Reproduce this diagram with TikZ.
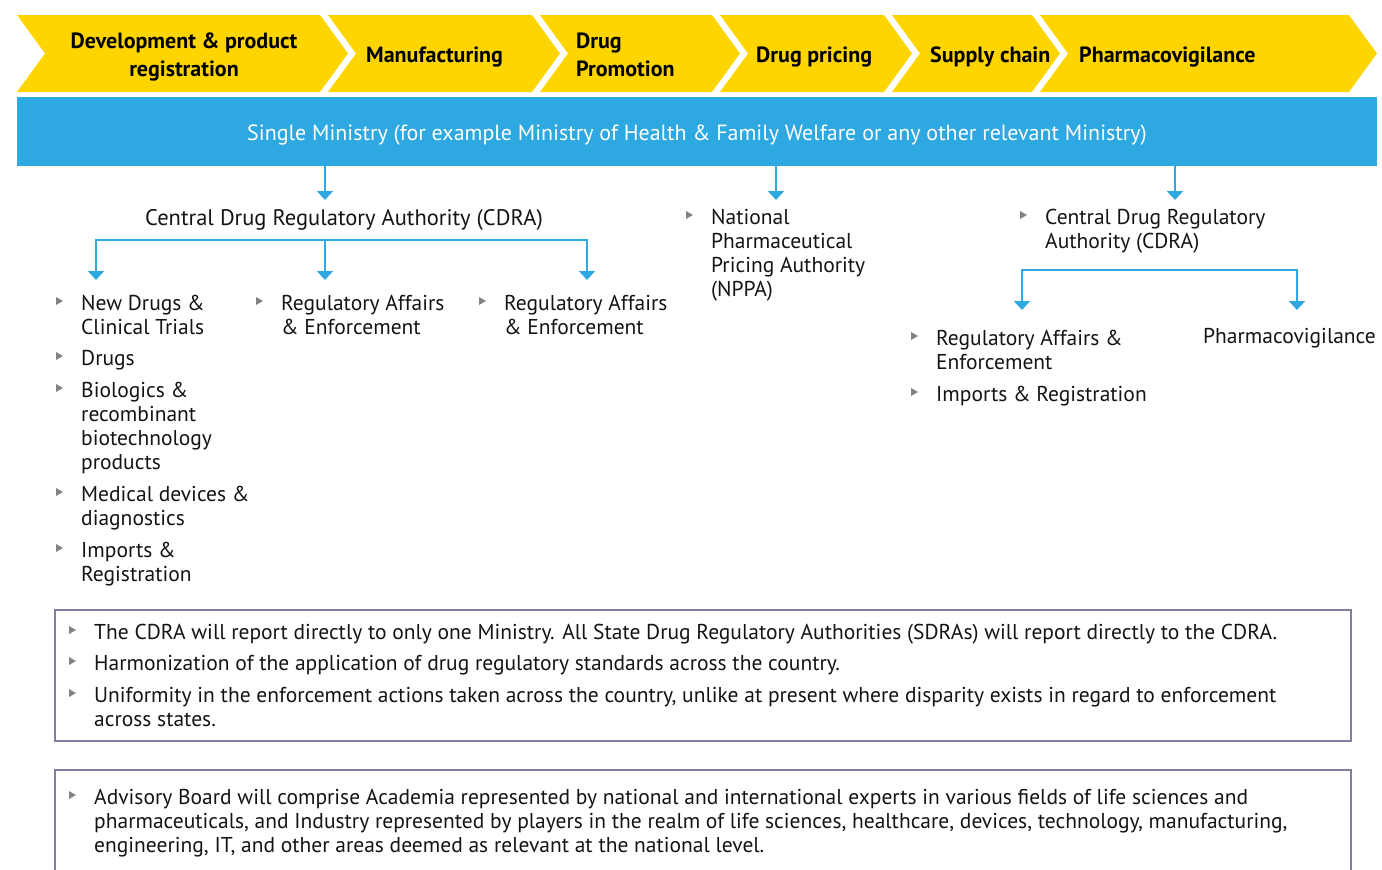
\documentclass[tikz,border=0pt]{standalone}
\usepackage{fontspec}
\setmainfont{PT Sans}
\usetikzlibrary{arrows.meta,calc}
\definecolor{eyyellow}{RGB}{255,213,0}
\definecolor{eyblue}{RGB}{45,168,224}
\definecolor{boxline}{RGB}{128,128,158}
\definecolor{bulgrey}{RGB}{130,130,130}
\definecolor{txt}{RGB}{20,20,20}
\tikzset{
  chev/.style={fill=eyyellow},
  chevtext/.style={font=\fontsize{22}{28}\selectfont\bfseries, text=black, align=left, inner sep=0pt},
  item/.style={font=\fontsize{21.5}{24}\selectfont, text=txt, align=left, inner sep=0pt, anchor=base west},
  conn/.style={draw=eyblue, line width=2pt, -{Triangle[width=16pt,length=9pt]}},
  framebox/.style={draw=boxline, line width=2pt},
}
% bullet beside the first line of a node whose base is its last line (#1 = number of lines)
\newcommand\bulat[2][1]{\fill[bulgrey] ($(#2.base west)+(-25,{-13-24*(#1-1)})$) -- ++(0,8) -- ++(7,-4) -- cycle;}
\begin{document}
\begin{tikzpicture}[x=1pt,y=-1pt]
\useasboundingbox (0,0) rectangle (1382,870);
% chevrons
\fill[chev] (17,15) -- (320,15) -- (348,53.5) -- (320,92) -- (17,92) -- (45,53.5) -- cycle;
\fill[chev] (328,15) -- (532,15) -- (560,53.5) -- (532,92) -- (328,92) -- (356,53.5) -- cycle;
\fill[chev] (540,15) -- (712,15) -- (740,53.5) -- (712,92) -- (540,92) -- (568,53.5) -- cycle;
\fill[chev] (720,15) -- (884,15) -- (912,53.5) -- (884,92) -- (720,92) -- (748,53.5) -- cycle;
\fill[chev] (892,15) -- (1032,15) -- (1060,53.5) -- (1032,92) -- (892,92) -- (920,53.5) -- cycle;
\fill[chev] (1040,15) -- (1349,15) -- (1377,53.5) -- (1349,92) -- (1040,92) -- (1068,53.5) -- cycle;
\node[chevtext, align=center, anchor=base] (c1) at (184,76) {Development \& product\\registration};
\node[chevtext, anchor=base west] (c2) at (366,62) {Manufacturing};
\node[chevtext, anchor=base west] (c3) at (576,76) {Drug\\Promotion};
\node[chevtext, anchor=base west] (c4) at (756,62) {Drug pricing};
\node[chevtext, anchor=base west] (c5) at (930,62) {Supply chain};
\node[chevtext, anchor=base west] (c6) at (1079,62) {Pharmacovigilance};
% ministry bar
\node[fill=eyblue, minimum width=1360pt, minimum height=69pt, inner sep=0pt] (bar) at (697,131.5) {};
\node[font=\fontsize{22}{24}\selectfont, text=white, anchor=base, inner sep=0pt] (bartext) at (697,140) {Single Ministry (for example Ministry of Health \& Family Welfare or any other relevant Ministry)};
% arrows from bar
\coordinate (t1) at (325,200);
\coordinate (t2) at (776,200);
\coordinate (t3) at (1175,200);
\draw[conn] (bar.south -| t1) -- (t1);
\draw[conn] (bar.south -| t2) -- (t2);
\draw[conn] (bar.south -| t3) -- (t3);
% left CDRA
\node[font=\fontsize{22.5}{24}\selectfont, text=txt, anchor=base, inner sep=0pt] (cdra) at (344,225) {Central Drug Regulatory Authority (CDRA)};
\coordinate (br1) at (325,240);
\coordinate (a1) at (96,280);
\coordinate (a2) at (325,280);
\coordinate (a3) at (587,280);
\draw[conn] (br1) -| (a1);
\draw[conn] (br1) -| (a3);
\draw[conn] (br1) -- (a2);
% column 1
\node[item] (l1) at (81,334) {New Drugs \&\\Clinical Trials}; \bulat[2]{l1}
\node[item] (l2) at (81,365) {Drugs}; \bulat{l2}
\node[item] (l3) at (81,469) {Biologics \&\\recombinant\\biotechnology\\products}; \bulat[4]{l3}
\node[item] (l4) at (81,525) {Medical devices \&\\diagnostics}; \bulat[2]{l4}
\node[item] (l5) at (81,581) {Imports \&\\Registration}; \bulat[2]{l5}
% columns 2 and 3
\node[item] (m1) at (281,334) {Regulatory Affairs\\\& Enforcement}; \bulat[2]{m1}
\node[item] (r1) at (504,334) {Regulatory Affairs\\\& Enforcement}; \bulat[2]{r1}
% NPPA
\node[item] (nppa) at (711,296) {National\\Pharmaceutical\\Pricing Authority\\(NPPA)}; \bulat[4]{nppa}
% right CDRA
\node[item] (cdra2) at (1045,248) {Central Drug Regulatory\\Authority (CDRA)}; \bulat[2]{cdra2}
\coordinate (br2) at (1160,270);
\coordinate (a4) at (1022,310);
\coordinate (a5) at (1297,310);
\draw[conn] (br2) -| (a4);
\draw[conn] (br2) -| (a5);
\node[item] (q1) at (936,369) {Regulatory Affairs \&\\Enforcement}; \bulat[2]{q1}
\node[item] (q2) at (936,401) {Imports \& Registration}; \bulat{q2}
\node[item] (pv) at (1203,343) {Pharmacovigilance};
% box 1
\draw[framebox] (55,610) rectangle (1351,741);
\node[item] (b1) at (94,639) {The CDRA will report directly to only one Ministry. All State Drug Regulatory Authorities (SDRAs) will report directly to the CDRA.}; \bulat{b1}
\node[item] (b2) at (94,670) {Harmonization of the application of drug regulatory standards across the country.}; \bulat{b2}
\node[item] (b3) at (94,726) {Uniformity in the enforcement actions taken across the country, unlike at present where disparity exists in regard to enforcement\\across states.}; \bulat[2]{b3}
% box 2
\draw[framebox] (55,874) -- (55,770) -- (1351,770) -- (1351,874);
\node[item] (d1) at (94,852) {Advisory Board will comprise Academia represented by national and international experts in various fields of life sciences and\\pharmaceuticals, and Industry represented by players in the realm of life sciences, healthcare, devices, technology, manufacturing,\\engineering, IT, and other areas deemed as relevant at the national level.}; \bulat[3]{d1}
\end{tikzpicture}
\end{document}
